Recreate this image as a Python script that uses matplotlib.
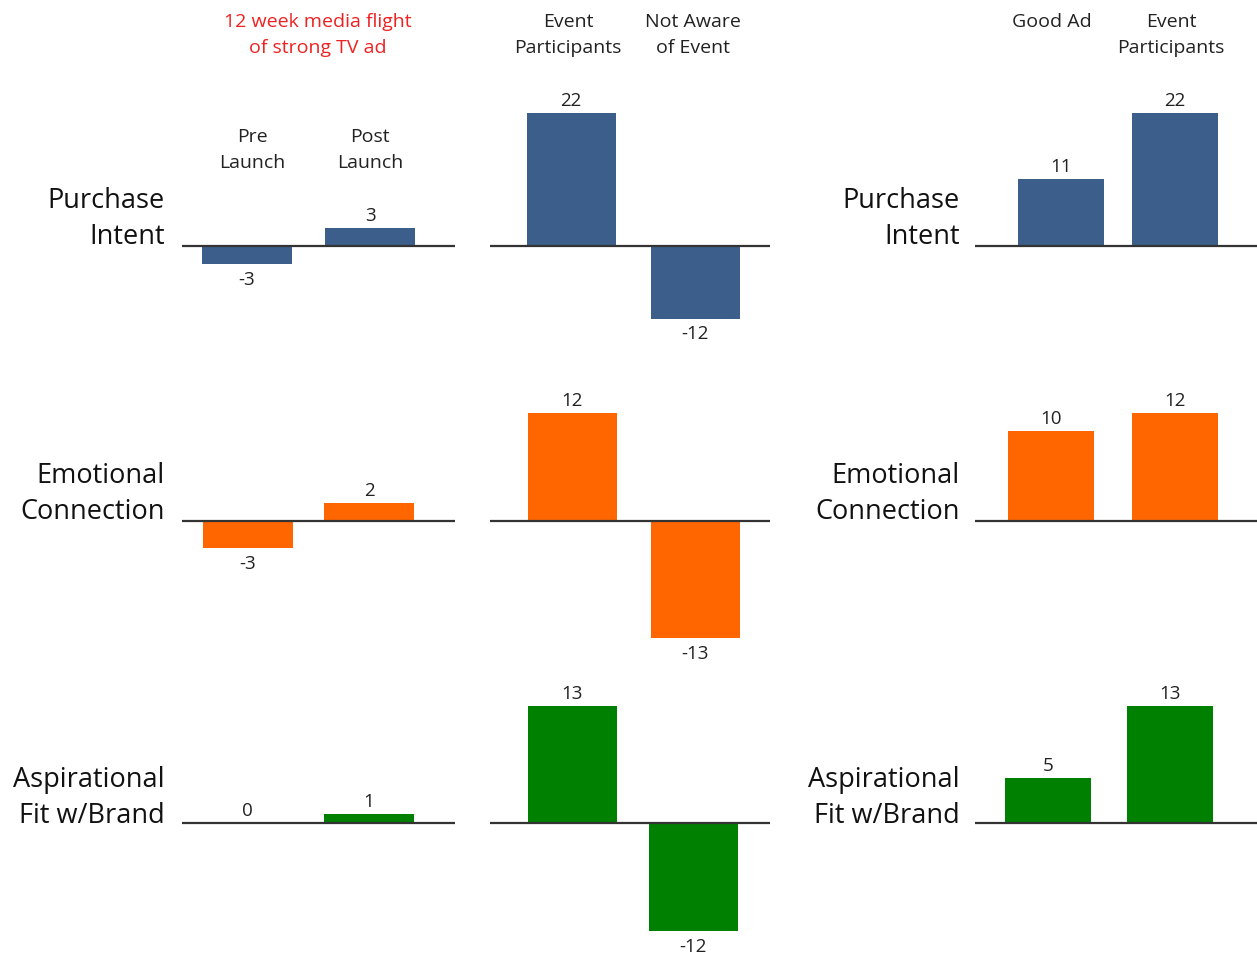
import matplotlib.pyplot as plt

plt.rcParams['font.family'] = ['Open Sans', 'DejaVu Sans']

metrics = ["Purchase\nIntent", "Emotional\nConnection", "Aspirational\nFit w/Brand"]

launch_labels = ["Pre\nLaunch", "Post\nLaunch"]
launch_values = [[-3, 3], [-3, 2], [0, 1]]

event_labels = ["Event\nParticipants", "Not Aware\nof Event"]
event_values = [[22, -12], [12, -13], [13, -12]]

ad_labels = ["Good Ad", "Event\nParticipants"]
ad_values = [[11, 22], [10, 12], [5, 13]]

flight_note = "12 week media flight\nof strong TV ad"

colors = ["#3b5f8a", "#ff6600", "#008000"]

W, H = 1257, 954
fig = plt.figure(figsize=(W / 100, H / 100), dpi=100)


def px_axes(x0, x1, y0, y1):
    return fig.add_axes([x0 / W, 1 - y1 / H, (x1 - x0) / W, (y1 - y0) / H])


def fig_text(x, y, s, **kw):
    fig.text(x / W, 1 - y / H, s, **kw)


# baseline pixel row, pixels per unit, vertical extent of each row
row_base = [247, 522, 824]
row_scale = [6.05, 9.0, 9.0]
row_span = [(70, 372), (376, 682), (686, 954)]

# x extent, bar centres per row and bar width (pixels)
panels = [
    (launch_values, 182, 455, [(247, 370), (248, 369), (247, 369)], 90),
    (event_values, 490, 770, [(571, 695), (572, 695), (572, 693)], 89),
    (ad_values, 975, 1257, [(1061, 1175), (1051, 1175), (1048, 1170)], 86),
]

for values, x0, x1, centres, width in panels:
    for r in range(3):
        top, bottom = row_span[r]
        base, scale = row_base[r], row_scale[r]
        c0, c1 = centres[r]
        step = c1 - c0
        ax = px_axes(x0, x1, top, bottom)
        ax.set_ylim(-(bottom - base) / scale, (base - top) / scale)
        ax.set_xlim((x0 - c0) / step, (x1 - c0) / step)
        vals = values[r]
        ax.bar([0, 1], vals, width=width / step, color=colors[r], zorder=2)
        ax.axhline(0, color='#333333', lw=1.6, zorder=3)
        for i, v in enumerate(vals):
            up = v >= 0
            ax.annotate(str(v), (i, v), xytext=(0, 3 if up else -4),
                        textcoords='offset points', ha='center',
                        va='bottom' if up else 'top', fontsize=13.5,
                        color='#222222')
        ax.axis('off')

# row titles
label_y = [219, 494, 798]
for r, name in enumerate(metrics):
    for x in (165, 960):
        fig_text(x, label_y[r], name, ha='right', va='center', fontsize=19.5,
                 linespacing=1.42, color='#111111')

# column headers
head = dict(ha='center', va='center', fontsize=14, linespacing=1.6)
fig_text(318, 35, flight_note, color='#ee2222', **head)
for x, s in zip((252, 370), launch_labels):
    fig_text(x, 150, s, color='#222222', **head)
for x, s in zip((568, 693), event_labels):
    fig_text(x, 35, s, color='#222222', **head)
fig_text(1052, 22, ad_labels[0], color='#222222', **head)
fig_text(1171, 35, ad_labels[1], color='#222222', **head)

fig.savefig('out.png', dpi=100, facecolor='white')
